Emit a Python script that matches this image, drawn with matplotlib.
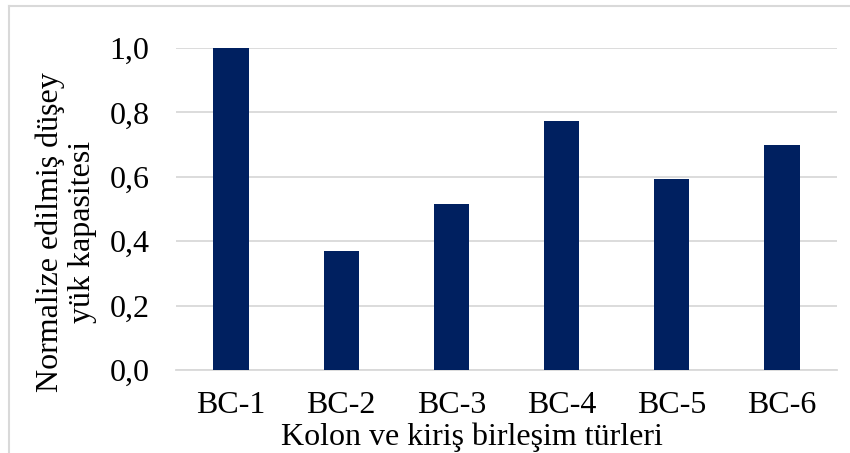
import matplotlib.pyplot as plt
from matplotlib.lines import Line2D

# Veriler
categories = ['BC-1', 'BC-2', 'BC-3', 'BC-4', 'BC-5', 'BC-6']
values = [1.0, 0.37, 0.515, 0.772, 0.592, 0.70]
yticks = [0.0, 0.2, 0.4, 0.6, 0.8, 1.0]
ytick_labels = ['0,0', '0,2', '0,4', '0,6', '0,8', '1,0']

plt.rcParams['font.family'] = 'Liberation Serif'
FS = 23

fig = plt.figure(figsize=(8.5, 4.53), dpi=100)
ax = fig.add_axes([176 / 850, 1 - 370 / 453, 661 / 850, 322 / 453])

x = range(len(categories))
ax.bar(x, values, width=0.32, color='#002060', zorder=3)

ax.set_xlim(-0.5, len(categories) - 0.5)
ax.set_ylim(0, 1.0)
ax.set_yticks(yticks)
ax.set_yticklabels(ytick_labels, fontsize=FS)
ax.set_xticks(list(x))
ax.set_xticklabels(categories, fontsize=FS)
ax.tick_params(axis='both', length=0)
ax.tick_params(axis='y', pad=19)
ax.tick_params(axis='x', pad=15)

ax.grid(axis='y', color='#d9d9d9', linewidth=1.3, zorder=0)
for side in ['top', 'right', 'left']:
    ax.spines[side].set_visible(False)
ax.spines['bottom'].set_color('#d9d9d9')
ax.spines['bottom'].set_linewidth(1.3)

fig.text(472 / 850, 1 - 437 / 453, 'Kolon ve kiriş birleşim türleri',
         fontsize=FS, ha='center', va='center')
fig.text(66 / 850, 1 - 232 / 453, 'Normalize edilmiş düşey\nyük kapasitesi',
         fontsize=FS, ha='center', va='center', rotation=90,
         linespacing=1.15)

# cerceve
fig.add_artist(Line2D([9 / 850, 1], [1 - 6 / 453, 1 - 6 / 453],
                      transform=fig.transFigure, color='#d9d9d9', lw=1.5))
fig.add_artist(Line2D([9 / 850, 9 / 850], [0, 1 - 6 / 453],
                      transform=fig.transFigure, color='#d9d9d9', lw=1.5))

fig.savefig('out.png', dpi=100)
